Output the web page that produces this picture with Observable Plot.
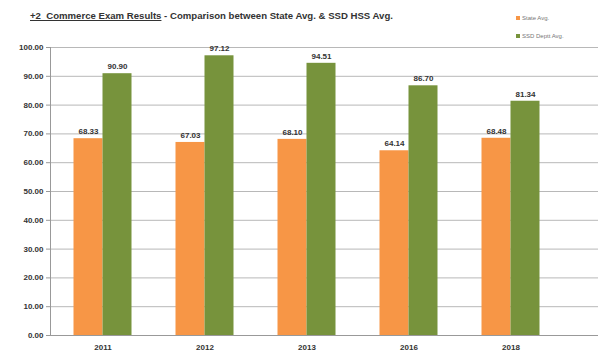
<!DOCTYPE html>
<html><head><meta charset="utf-8">
<script src="https://cdn.jsdelivr.net/npm/d3@7"></script>
<script src="https://cdn.jsdelivr.net/npm/@observablehq/plot@0.6"></script>
<style>
body{margin:0;background:#fff;font-family:"Liberation Sans",Arial,sans-serif;}
#wrap{width:604px;height:355px;position:relative;overflow:hidden;}
#head{height:40px;position:relative;}
#title{position:absolute;left:30px;top:10px;font-size:9.6px;font-weight:bold;color:#333;white-space:nowrap;}
#title u{text-decoration:underline;}
.leg{position:absolute;left:516px;font-size:6px;color:#777;white-space:nowrap;}
.sw{display:inline-block;width:4px;height:4px;margin-right:2px;vertical-align:middle;}
</style></head>
<body><div id="wrap">
<div id="head">
<div id="title"><u>+2&nbsp; Commerce Exam Results</u> - Comparison between State Avg. &amp; SSD HSS Avg.</div>
<div class="leg" style="top:15px"><span class="sw" style="background:#f79646"></span>State Avg.</div>
<div class="leg" style="top:33px"><span class="sw" style="background:#77933c"></span>SSD Deptt Avg.</div>
</div>
<div id="chart"></div>
</div>
<script>
const years = ["2011", "2012", "2013", "2016", "2018"];
const stateAvg = [68.33, 67.03, 68.10, 64.14, 68.48];
const ssdAvg = [90.90, 97.12, 94.51, 86.70, 81.34];
const yTicks = [0, 10, 20, 30, 40, 50, 60, 70, 80, 90, 100];

const orange = "#f79646", green = "#77933c";
const data = years.map((y, i) => ({year: y, state: stateAvg[i], ssd: ssdAvg[i]}));
const fmt = d3.format(".2f");

const chart = Plot.plot({
  width: 604, height: 315,
  marginTop: 7, marginBottom: 20, marginLeft: 50, marginRight: 6,
  style: {fontFamily: "Liberation Sans, Arial, sans-serif", background: "#fff"},
  x: {domain: years, range: [50, 562], paddingInner: 0.716, paddingOuter: 0.358, label: null},
  y: {domain: [0, 100], label: null},
  marks: [
    Plot.ruleY(yTicks, {stroke: "#b8b8b8", strokeWidth: 1}),
    Plot.barY(data, {x: "year", y: "state", fill: orange, dx: -14.5}),
    Plot.barY(data, {x: "year", y: "ssd", fill: green, dx: 14.5}),
    Plot.text(data, {x: "year", y: "state", text: d => fmt(d.state), dx: -14.5, dy: -7, fontSize: 8, fontWeight: "bold", fill: "#333"}),
    Plot.text(data, {x: "year", y: "ssd", text: d => fmt(d.ssd), dx: 14.5, dy: -7, fontSize: 8, fontWeight: "bold", fill: "#333"}),
    Plot.frame({anchor: "left", stroke: "#999"}),
    Plot.axisY({ticks: yTicks, tickFormat: fmt, tickSize: 4, tickPadding: 3, fontSize: 8, fontWeight: "bold", fill: "#333", stroke: "#999"}),
    Plot.axisX({tickSize: 0, tickPadding: 9, fontSize: 8, fontWeight: "bold", fill: "#333"}),
    Plot.ruleY([0], {stroke: "#999"})
  ]
});
document.getElementById("chart").appendChild(chart);
</script>
</body></html>
